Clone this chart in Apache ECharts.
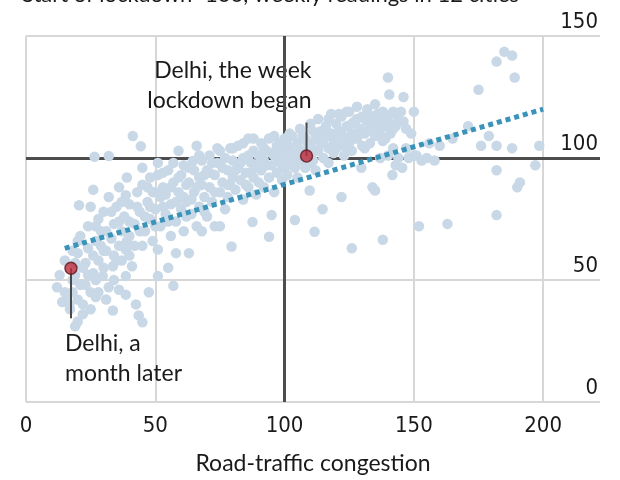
<!DOCTYPE html>
<html>
<head>
<meta charset="utf-8">
<script src="https://cdn.jsdelivr.net/npm/echarts@6/dist/echarts.min.js"></script>
<style>
  html, body { margin: 0; padding: 0; background: #fff; }
  #chart { width: 620px; height: 480px; }
</style>
</head>
<body>
<div id="chart"></div>
<script>
// Weekly readings in 12 cities: [road-traffic congestion, air pollution], start of lockdown = 100
const cityWeeks = [
  [12,47],[13,52],[14,41],[15,45],[15,58],[16,44],[16.8,40],[17,38],[18,62],[18,50],[18,45],[19,31],[19,57],[19,52],[20,66],[20,42],[20,33],[20,61],
  [21,68],[21,48],[20.5,80.6],[22,36],[22,55],[22,40],[23,48],[23,57],[24,63],[24,72],[24,52],[25,80],[25,45],[25,38],[26,60],[26,52.8],[26,87],[26.5,100.5],[27,43],[27,66],[27,72],[27,50],[28,75],[28,58],[28,45],[29,70],[29,64],[29.7,51.6],[30,62],[30,78],[30,55],
  [31,62],[31,70],[31,42],[32,47],[32,84],[32,100.8],[33,67],[33,78],[33.6,37.5],[33.6,55.6],[34,73],[34,60],[34,50],[35,58],[35,80],[36,64],[36,88],[36,74],[36,46],[37,70],[37,82],[37,58],[38,76],[38.6,44],[38.6,51.6],[38.6,62.5],[38.6,84.7],[39,92],[39,66],[40,68],[40,81],[40,74],[40,60],
  [41,55.6],[41.3,109],[42,73],[42,64],[42.5,40],[43,86],[43,80],[43.6,35.5],[44,78],[44,70],[44.4,104.8],[45,32.7],[45,64],[45,89],[45,96],[46,70],[46,76],[47,82],[47,88],[47.5,45],[48,75],[48,92],[48,80],[49,66],[49,86],[50,79],[50,72],[50,86],
  [51,51.6],[51,62.5],[51,93],[51,98],[52,72],[52,84],[53,88],[53,80],[53,94],[54,85],[54,77],[55,55],[55,95],[55,74],[56,68],[56,81],[56,88],[57,47.6],[57,90],[57,98],[58,61],[58,74],[58,82],[59,103],[59,86],[59,92],[60,79],[60,93],
  [61,70],[61,84],[61,97],[62,89],[62,82],[62,76],[63,61],[63,96],[63,90],[64,77],[64,83],[64.5,98.8],[65,86],[65,95],[66,105],[66,72],[66,88],[67,92],[67,80],[67,101],[68,89],[68,99],[68,70],[69,84],[69,93],[69,78],[70,95],[70,76],
  [71,88],[71,101],[71,94],[72,82],[72,98],[73,93],[73,72],[73,86],[74,98],[74,104],[75,86],[75,103],[75,72],[76,90],[76,96],[77,79],[77,100],[78,95],[78,84],[78,89],[79,104],[79,89],[79.5,63.7],[80,99],[80,92],[80,104],
  [81,87],[81,95],[82,96],[82,105],[83,91],[83,98],[84,100],[84,83],[84,106],[85,94],[85,89],[86,108],[86,88],[86,101],[87,98],[87,94],[87.6,73.8],[88,92],[88,103],[88,108],[89,85],[89,97],[90,101],[90,90],[90,96],
  [91,95],[91,106],[92,88],[92,99],[92,104],[93,103],[93,97],[94,67.7],[94,92],[94,108],[95,76.6],[95,97],[95,102],[96,101],[96,86],[96,109],[97,94],[97,105],[98,99],[98,106],[99,91],[99,103],[99,97],[100,96],[100,108],
  [101,100],[101,93],[101,106],[102,104],[102,110],[103,97],[103,109],[104,74.6],[104,101],[104,96],[105,106],[105,92],[105,102],[106,99],[106,112],[107,103],[107,109],[108,96],[108,108],[109,101],[109,106],[109.7,86.7],[110,105],[110,114],[110,98],
  [111,99],[111,111],[111.6,69.8],[112,108],[112,95],[112,103],[113,103],[113,116],[114,111],[114,106],[114.7,79],[115,100],[115,107],[116,113],[116,109],[117,98],[117,104],[117,116],[118,110],[118,118],[119,102],[119,107],[120,109],[120,114],[120,104],
  [121,105],[121,111],[121,118],[122,84],[122,117],[122,110],[123,108],[123,101],[124,113],[124,104],[124,119],[125,106],[125,119],[126,110],[126,103],[126,63],[126,114],[127,115],[127,108],[128,108],[128,121],[128,116],[129,112],[129.7,96],[130,105],[130,117],[130,111],
  [131,110],[131,104],[131.7,115],[132,120],[132,116],[133,106],[133,113],[134,88],[134,117],[134,111],[135,109],[135,122],[135,114],[135.5,117],[135,86.7],[136,112],[136,118],[137,115],[137,100],[137,110],[138,119],[138,107],[138,116],[138,66.5],[139,113],[139,108],[140,133],[140,101],[140,117],
  [140.5,126],[141,110],[141,114],[141.7,93],[142,104],[142,119],[142,112],[143,97],[143,113],[143,118],[144,100],[144,115],[145,119],[145.5,96],[146,125],[146,115],[147,104],[147,112],[148,100],[149,110],[150,119],[150,101],
  [151,101],[152,72],[153,99],[155,100],[156,106],[158,99],[160,105],
  [163,73],[165,108],[171,113],[175,128],[176,105],[179,109],[182,139.5],[182,105],[182,95],[182,76.6],[185,143.5],[188,142],[188,104],[189,133],[190,88],[191,90],[197,97],[198.5,105]
];

// Fitted trend
const trendLine = [[15, 63], [200, 120]];

// Delhi: the week lockdown began, and a month later
const delhiPoints = [[108.5, 100.8], [17.4, 54.8]];
const delhiLeaderEnds = [[108.5, 114.5], [17.4, 34.3]];
const delhiLabels = ['Delhi, the week\nlockdown began', 'Delhi, a\nmonth later'];

const xTicks = [0, 50, 100, 150, 200];
const yTicks = [0, 50, 100, 150];

const NUM_FONT = "'Liberation Sans Narrow', 'DejaVu Sans Condensed', sans-serif";
const TEXT_FONT = "Lato, 'Liberation Sans', sans-serif";
const GRID = '#d7d7d7';
const INK = '#1a1a1a';

const chart = echarts.init(document.getElementById('chart'), null, { renderer: 'canvas' });

const leaderSeries = delhiPoints.map((p, i) => ({
  type: 'line',
  data: [p, delhiLeaderEnds[i]],
  showSymbol: false,
  silent: true,
  z: 4,
  lineStyle: { color: '#4a4a4a', width: 2 }
}));

chart.setOption({
  animation: false,
  grid: { left: 26, right: 20, top: 36, bottom: 72 },
  xAxis: {
    type: 'value',
    min: 0,
    max: 222,
    interval: 50,
    axisLine: { show: false },
    axisTick: { show: false },
    axisLabel: {
      showMaxLabel: false,
      margin: 13,
      fontFamily: NUM_FONT,
      fontSize: 22,
      color: INK,
      formatter: v => (xTicks.includes(v) ? String(v) : '')
    },
    splitLine: {
      show: true,
      lineStyle: { color: [GRID, GRID, GRID, GRID, GRID, 'rgba(0,0,0,0)'], width: 2 }
    },
    name: 'Road-traffic congestion',
    nameLocation: 'middle',
    nameGap: 50,
    nameTextStyle: { fontFamily: TEXT_FONT, fontSize: 23, color: INK }
  },
  yAxis: {
    type: 'value',
    min: 0,
    max: 150,
    interval: 50,
    position: 'right',
    axisLine: { show: false },
    axisTick: { show: false },
    axisLabel: {
      inside: true,
      margin: 2,
      align: 'right',
      verticalAlign: 'bottom',
      padding: [0, 0, 3, 0],
      fontFamily: NUM_FONT,
      fontSize: 22,
      color: INK,
      formatter: v => (yTicks.includes(v) ? String(v) : '')
    },
    splitLine: { show: true, lineStyle: { color: GRID, width: 2 } }
  },
  series: [
    {
      // lockdown baselines at 100
      type: 'line',
      data: [],
      z: 1,
      silent: true,
      markLine: {
        z: 1,
        silent: true,
        symbol: 'none',
        label: { show: false },
        lineStyle: { color: '#4d4d4d', width: 3, type: 'solid' },
        data: [{ xAxis: 100 }, { yAxis: 100 }]
      }
    },
    {
      type: 'scatter',
      data: cityWeeks,
      symbolSize: 10.5,
      z: 2,
      silent: true,
      itemStyle: { color: '#c9d8e6', opacity: 1 }
    },
    {
      type: 'line',
      data: trendLine,
      showSymbol: false,
      silent: true,
      z: 3,
      lineStyle: { color: '#3a93b8', width: 5, type: [5, 4], cap: 'butt' }
    },
    ...leaderSeries,
    {
      type: 'scatter',
      data: delhiPoints,
      symbolSize: 12,
      z: 5,
      silent: true,
      itemStyle: { color: '#bd2b3b', borderColor: '#5b1a22', borderWidth: 1.5 }
    }
  ]
});

// Annotation texts placed relative to the Delhi points
const pTop = chart.convertToPixel({ gridIndex: 0 }, delhiPoints[0]);
const pLow = chart.convertToPixel({ gridIndex: 0 }, delhiPoints[1]);

chart.setOption({
  graphic: [
    {
      type: 'text',
      left: 22,
      top: -16,
      silent: true,
      style: {
        text: 'Start of lockdown=100, weekly readings in 12 cities',
        font: "22px " + TEXT_FONT,
        fill: INK
      }
    },
    {
      type: 'text',
      x: pTop[0] + 5,
      y: pTop[1] - 100,
      silent: true,
      style: {
        text: delhiLabels[0],
        align: 'right',
        verticalAlign: 'top',
        font: "23px " + TEXT_FONT,
        lineHeight: 30,
        fill: INK
      }
    },
    {
      type: 'text',
      x: pLow[0] - 6,
      y: pLow[1] + 60,
      silent: true,
      style: {
        text: delhiLabels[1],
        align: 'left',
        verticalAlign: 'top',
        font: "23px " + TEXT_FONT,
        lineHeight: 30,
        fill: INK
      }
    }
  ]
});
</script>
</body>
</html>
